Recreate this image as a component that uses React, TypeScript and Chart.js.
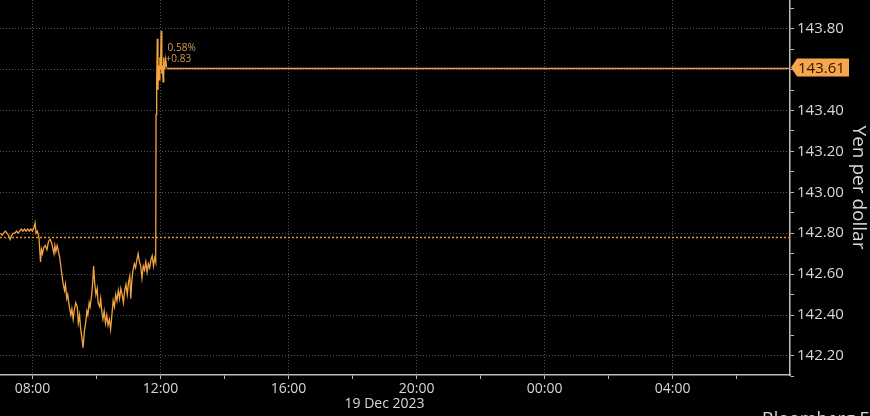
import React, { useEffect, useRef } from "react";
import { Chart, registerables } from "chart.js";

Chart.register(...registerables);

// ---- data (hours since 00:00 on 19 Dec 2023; values in yen per dollar) ----
const TIMES: number[] = [
  7.0, 7.05, 7.1, 7.15, 7.2, 7.25, 7.3, 7.35, 7.4, 7.45, 7.5, 7.55, 7.6, 7.65, 7.7, 7.75, 7.8, 7.85, 7.9, 7.95,
  8.0, 8.05, 8.08, 8.11, 8.15, 8.2, 8.25, 8.28, 8.31, 8.35, 8.4, 8.45, 8.5, 8.55, 8.6, 8.63, 8.67, 8.7, 8.73, 8.77,
  8.8, 8.85, 8.9, 8.95, 9.0, 9.03, 9.07, 9.1, 9.15, 9.2, 9.23, 9.27, 9.3, 9.35, 9.4, 9.43, 9.47, 9.5, 9.55, 9.58,
  9.62, 9.66, 9.7, 9.73, 9.77, 9.8, 9.85, 9.88, 9.91, 9.94, 9.98, 10.02, 10.05, 10.1, 10.13, 10.17, 10.2, 10.24, 10.28, 10.32,
  10.36, 10.4, 10.44, 10.48, 10.52, 10.56, 10.6, 10.64, 10.68, 10.72, 10.76, 10.8, 10.84, 10.88, 10.92, 10.96, 11.0, 11.04, 11.07, 11.1,
  11.14, 11.18, 11.22, 11.26, 11.3, 11.34, 11.38, 11.42, 11.46, 11.5, 11.54, 11.58, 11.62, 11.66, 11.7, 11.74, 11.78, 11.82, 11.85, 11.86,
  11.88, 11.9, 11.92, 11.94, 11.96, 11.98, 12.0, 12.02, 12.04, 12.06, 12.08, 12.1, 12.13, 12.16, 12.19,
];
const VALUES: number[] = [
  142.8, 142.79, 142.8, 142.81, 142.8, 142.79, 142.77, 142.79, 142.8, 142.8, 142.81, 142.8, 142.81, 142.82, 142.81, 142.82, 142.81, 142.82, 142.81, 142.82,
  142.81, 142.83, 142.85, 142.8, 142.81, 142.78, 142.66, 142.72, 142.7, 142.73, 142.74, 142.72, 142.76, 142.77, 142.75, 142.73, 142.7, 142.74, 142.71, 142.74,
  142.72, 142.68, 142.62, 142.56, 142.52, 142.55, 142.48, 142.5, 142.44, 142.4, 142.43, 142.38, 142.42, 142.46, 142.44, 142.36, 142.4, 142.34, 142.28, 142.24,
  142.32, 142.36, 142.42, 142.4, 142.46, 142.44, 142.5, 142.56, 142.64, 142.56, 142.5, 142.53, 142.46, 142.44, 142.48, 142.41, 142.38, 142.42, 142.36, 142.4,
  142.35, 142.38, 142.33, 142.4, 142.47, 142.44, 142.5, 142.47, 142.52, 142.48, 142.53, 142.5, 142.46, 142.52, 142.55, 142.5, 142.56, 142.59, 142.48, 142.56,
  142.62, 142.65, 142.63, 142.67, 142.7, 142.66, 142.64, 142.58, 142.64, 142.62, 142.66, 142.61, 142.65, 142.63, 142.67, 142.69, 142.64, 142.68, 142.66, 143.38,
  143.55, 143.75, 143.5, 143.62, 143.55, 143.66, 143.6, 143.79, 143.58, 143.62, 143.54, 143.66, 143.6, 143.65, 143.61,
];
const PREV_CLOSE = 142.78;
const LAST_PRICE = 143.61;
const Y_TICKS: number[] = [
  142.1, 142.2, 142.3, 142.4, 142.5, 142.6, 142.7, 142.8, 142.9,
  143.0, 143.1, 143.2, 143.3, 143.4, 143.5, 143.6, 143.7, 143.8, 143.9,
];
const X_TICK_HOURS: number[] = [8, 10, 12, 14, 16, 18, 20, 22, 24, 26, 28, 30];
const DATE_LABEL = "19 Dec 2023";
const DATE_LABEL_HOUR = 19.0;
const Y_TITLE = "Yen per dollar";

const X_MIN = 6.984;
const X_MAX = 31.67;
const Y_MIN = 142.107;
const Y_MAX = 143.94;

const LINE_COLOR = "#f4a340";
const FONT = "'Open Sans', 'DejaVu Sans', sans-serif";

const pad2 = (n: number) => (n < 10 ? "0" + n : "" + n);
const isMajorY = (v: number) => Math.round(v * 10) % 2 === 0;
const isMajorX = (v: number) => Math.round(v) % 4 === 0;

const overlayPlugin = {
  id: "overlay",
  beforeDatasetsDraw(chart: any) {
    const { ctx, chartArea, scales } = chart;
    const x = scales.x;
    const y = scales.y;
    ctx.save();
    // previous close dotted line
    const yp = Math.round(y.getPixelForValue(PREV_CLOSE)) + 0.5;
    ctx.strokeStyle = "#f08a30";
    ctx.lineWidth = 1.5;
    ctx.setLineDash([2, 2]);
    ctx.beginPath();
    ctx.moveTo(chartArea.left, yp);
    ctx.lineTo(chartArea.right, yp);
    ctx.stroke();
    // last price solid line
    ctx.setLineDash([]);
    const yl = Math.round(y.getPixelForValue(LAST_PRICE)) + 0.5;
    const xl = x.getPixelForValue(TIMES[TIMES.length - 1]);
    ctx.strokeStyle = "#f0a050";
    ctx.lineWidth = 1.3;
    ctx.beginPath();
    ctx.moveTo(xl, yl);
    ctx.lineTo(chartArea.right, yl);
    ctx.stroke();
    ctx.restore();
  },
  afterDraw(chart: any) {
    const { ctx, chartArea, scales } = chart;
    const x = scales.x;
    const y = scales.y;
    ctx.save();
    // price tag
    const yl = y.getPixelForValue(LAST_PRICE);
    const r = chartArea.right + 1;
    ctx.fillStyle = "#f6a64c";
    ctx.beginPath();
    ctx.moveTo(r, yl);
    ctx.lineTo(r + 6, yl - 9);
    ctx.lineTo(r + 58, yl - 9);
    ctx.lineTo(r + 58, yl + 9);
    ctx.lineTo(r + 6, yl + 9);
    ctx.closePath();
    ctx.fill();
    ctx.fillStyle = "#2b1700";
    ctx.font = "15px " + FONT;
    ctx.textBaseline = "middle";
    ctx.textAlign = "left";
    ctx.fillText(LAST_PRICE.toFixed(2), r + 7, yl + 1);

    // change annotation
    const xl = x.getPixelForValue(TIMES[TIMES.length - 1]);
    const diff = LAST_PRICE - PREV_CLOSE;
    const pct = (diff / PREV_CLOSE) * 100;
    ctx.fillStyle = "#d99a55";
    ctx.font = "10px " + FONT;
    ctx.textBaseline = "middle";
    ctx.fillText(pct.toFixed(2) + "%", xl + 1, yl - 19);
    ctx.fillText((diff >= 0 ? "+" : "") + diff.toFixed(2), xl - 1, yl - 8);

    // date label
    ctx.fillStyle = "#d8d8d8";
    ctx.font = "14px " + FONT;
    ctx.textAlign = "center";
    ctx.fillText(DATE_LABEL, x.getPixelForValue(DATE_LABEL_HOUR), 404);

    // source (cut off at the bottom)
    ctx.textAlign = "left";
    ctx.textBaseline = "alphabetic";
    ctx.font = "18px " + FONT;
    ctx.fillText("Bloomberg Finance", 762, 425);
    ctx.restore();
  },
};

export default function App() {
  const ref = useRef<HTMLCanvasElement | null>(null);
  useEffect(() => {
    document.body.style.margin = "0";
    document.body.style.background = "#000";
    const canvas = ref.current!;
    const data = TIMES.map((t, i) => ({ x: t, y: VALUES[i] }));
    const chart = new Chart(canvas, {
      type: "line",
      data: {
        datasets: [
          {
            data,
            borderColor: LINE_COLOR,
            borderWidth: 1.3,
            pointRadius: 0,
            tension: 0,
            fill: false,
          },
        ],
      },
      plugins: [overlayPlugin],
      options: {
        animation: false,
        responsive: false,
        maintainAspectRatio: false,
        layout: { padding: 0 },
        plugins: { legend: { display: false }, tooltip: { enabled: false } },
        scales: {
          x: {
            type: "linear",
            min: X_MIN,
            max: X_MAX,
            afterBuildTicks: (s: any) => {
              s.ticks = X_TICK_HOURS.map((v) => ({ value: v }));
            },
            afterFit: (s: any) => {
              s.height = 41;
              s.paddingLeft = 0;
              s.paddingRight = 0;
            },
            ticks: {
              autoSkip: false,
              maxRotation: 0,
              color: "#d8d8d8",
              font: { family: FONT, size: 14 },
              padding: 2,
              callback: (v: any) => (isMajorX(Number(v)) ? pad2(Math.round(Number(v)) % 24) + ":00" : ""),
            },
            grid: {
              color: (c: any) => (c.tick && isMajorX(c.tick.value) ? "rgba(110,110,110,0.75)" : "rgba(0,0,0,0)"),
              lineWidth: 1,
              tickColor: "#bdbdbd",
              tickLength: 4,
            },
            border: { color: "#bdbdbd", width: 1.5, dash: [1, 2] },
          },
          y: {
            type: "linear",
            position: "right",
            min: Y_MIN,
            max: Y_MAX,
            afterBuildTicks: (s: any) => {
              s.ticks = Y_TICKS.map((v) => ({ value: v }));
            },
            afterFit: (s: any) => {
              s.width = 80;
              s.paddingTop = 0;
              s.paddingBottom = 0;
            },
            ticks: {
              autoSkip: false,
              color: "#d8d8d8",
              font: { family: FONT, size: 15 },
              padding: 3,
              callback: (v: any) => (isMajorY(Number(v)) ? Number(v).toFixed(2) : ""),
            },
            grid: {
              color: (c: any) => (c.tick && isMajorY(c.tick.value) ? "rgba(110,110,110,0.75)" : "rgba(0,0,0,0)"),
              lineWidth: 1,
              tickColor: "#bdbdbd",
              tickLength: 4,
            },
            border: { color: "#bdbdbd", width: 1.5, dash: [1, 2] },
            title: {
              display: true,
              text: Y_TITLE,
              color: "#d8d8d8",
              font: { family: FONT, size: 19 },
              padding: { top: 0, bottom: 1 },
            },
          },
        },
      },
    });
    return () => chart.destroy();
  }, []);
  return (
    <div style={{ width: 870, height: 416, background: "#000" }}>
      <canvas ref={ref} width={870} height={416} style={{ display: "block" }} />
    </div>
  );
}
